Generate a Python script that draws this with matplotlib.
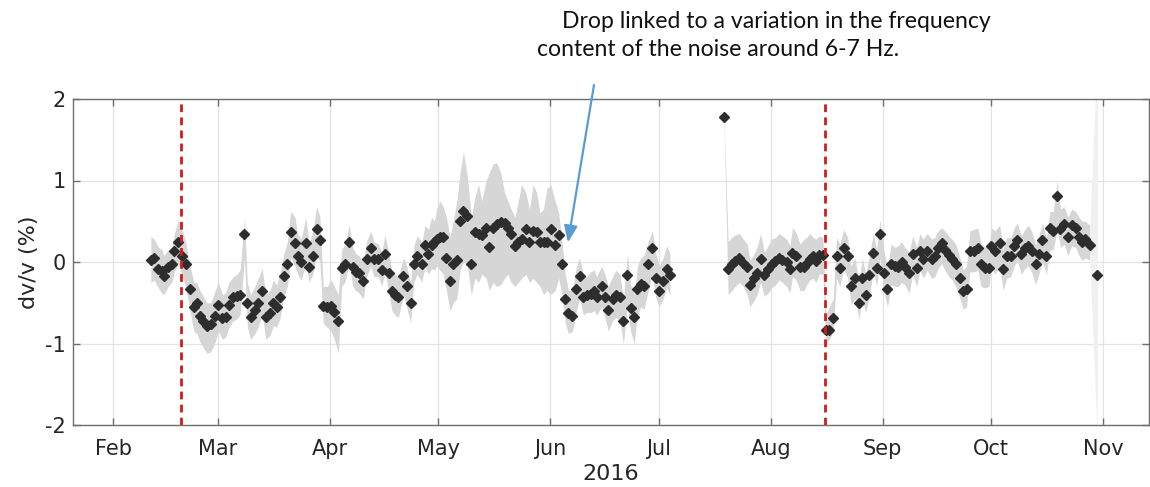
import datetime as dt
import matplotlib
matplotlib.use("Agg")
import matplotlib.pyplot as plt
import matplotlib.dates as mdates
import numpy as np

plt.rcParams["font.family"] = ["DejaVu Sans"]

# ---------------- data (days after 2016-02-01, dv/v in %) ----------------
base_date = dt.datetime(2016, 2, 1)

days_a = [10.4, 11.3, 12.5, 13.4, 14.0, 15.2, 16.2, 16.9, 18.0, 18.9, 20.0, 21.2, 22.3, 23.1, 24.0,
          24.9, 25.9, 27.0, 28.2, 29.1, 30.2, 31.1, 32.0, 33.2, 34.2, 35.1, 36.3, 37.1, 38.0, 39.2,
          40.1, 41.2, 42.2, 43.4, 44.3, 45.2, 46.1, 47.2, 48.2, 49.1, 50.3, 51.0, 52.0, 53.3, 54.2,
          55.2, 56.3, 57.2, 58.1, 59.2, 60.3, 61.2, 62.3, 63.2, 64.1, 65.3, 66.3, 67.1, 68.0, 69.2,
          70.1, 71.2, 72.2, 73.4, 74.3, 75.2, 76.3, 77.1, 78.0, 78.9, 80.3, 81.2, 82.3, 83.2, 84.1,
          85.4, 86.3, 87.2, 88.1, 88.9, 89.5, 90.4, 91.3, 92.2, 93.2, 94.1, 95.1, 96.0, 96.9, 98.0,
          99.1, 100.1, 101.1, 102.0, 103.2, 104.1, 105.1, 106.1, 107.2, 108.3, 109.2, 110.1, 111.2, 112.1, 113.0,
          114.2, 115.2, 116.2, 117.2, 118.1, 119.1, 120.0, 121.1, 122.3, 123.3, 124.2, 125.1, 126.0, 127.1, 128.2,
          129.1, 130.1, 131.0, 132.1, 133.1, 133.8, 135.2, 136.1, 137.0, 138.2, 139.1, 140.2, 141.2, 142.3, 143.2,
          144.2, 145.1, 146.0, 146.9, 148.1, 149.2, 150.2, 151.1, 152.2, 153.2, 154.1]
dvv_a = [0.03, 0.05, -0.09, -0.11, -0.17, -0.06, -0.03, 0.14, 0.24, 0.07, -0.03, -0.33, -0.55, -0.50, -0.66,
         -0.72, -0.79, -0.76, -0.66, -0.53, -0.69, -0.67, -0.53, -0.43, -0.42, -0.40, 0.34, -0.50, -0.67, -0.59,
         -0.50, -0.36, -0.67, -0.63, -0.50, -0.55, -0.43, -0.17, -0.03, 0.37, 0.23, 0.07, 0.00, 0.23, -0.06,
         0.07, 0.41, 0.27, -0.54, -0.55, -0.54, -0.61, -0.73, -0.07, -0.02, 0.24, -0.06, -0.12, -0.13, -0.23,
         0.04, 0.17, 0.04, 0.04, -0.10, 0.10, -0.13, -0.36, -0.40, -0.43, -0.17, -0.30, -0.50, -0.03, 0.07,
         -0.03, 0.21, 0.10, 0.21, 0.25, 0.28, 0.31, 0.31, 0.05, -0.23, -0.03, 0.03, 0.50, 0.62, 0.56,
         -0.03, 0.37, 0.34, 0.33, 0.42, 0.18, 0.42, 0.47, 0.49, 0.48, 0.42, 0.34, 0.20, 0.24, 0.28,
         0.41, 0.24, 0.38, 0.37, 0.24, 0.24, 0.24, 0.41, 0.21, 0.33, -0.03, -0.46, -0.63, -0.66, -0.33,
         -0.17, -0.43, -0.41, -0.39, -0.36, -0.43, -0.30, -0.43, -0.59, -0.46, -0.40, -0.43, -0.73, -0.16, -0.56,
         -0.67, -0.33, -0.27, -0.29, -0.03, 0.17, -0.20, -0.36, -0.23, -0.09, -0.16]
lo_a = [-0.25, -0.22, -0.32, -0.38, -0.40, -0.30, -0.25, -0.12, -0.02, -0.15, -0.30, -0.60, -0.85, -0.88, -0.98,
        -1.05, -1.12, -1.10, -0.98, -0.85, -0.95, -0.92, -0.80, -0.72, -0.70, -0.65, 0.05, -0.80, -0.95, -0.88,
        -0.80, -0.65, -0.95, -0.90, -0.78, -0.80, -0.70, -0.42, -0.30, 0.05, -0.05, -0.15, -0.22, -0.02, -0.25,
        -0.15, 0.10, 0.00, -0.75, -0.80, -0.85, -0.95, -1.12, -0.30, -0.25, -0.02, -0.30, -0.35, -0.38, -0.45,
        -0.18, -0.05, -0.18, -0.18, -0.30, -0.12, -0.38, -0.60, -0.65, -0.68, -0.40, -0.55, -0.75, -0.25, -0.15,
        -0.25, -0.05, -0.15, -0.08, -0.10, -0.05, -0.10, -0.15, -0.35, -0.60, -0.50, -0.45, -0.10, 0.00, -0.05,
        -0.40, -0.20, -0.25, -0.15, -0.20, -0.35, -0.25, -0.30, -0.28, -0.20, -0.15, -0.25, -0.30, -0.25, -0.20,
        -0.15, -0.25, -0.20, -0.25, -0.30, -0.40, -0.35, -0.40, -0.35, -0.20, -0.40, -0.75, -0.88, -0.85, -0.60,
        -0.45, -0.65, -0.62, -0.62, -0.60, -0.65, -0.55, -0.68, -0.85, -0.72, -0.68, -0.72, -1.00, -0.55, -0.85,
        -1.00, -0.65, -0.55, -0.58, -0.35, -0.15, -0.45, -0.55, -0.45, -0.32, -0.40]
hi_a = [0.31, 0.28, 0.18, 0.15, 0.08, 0.15, 0.18, 0.35, 0.52, 0.42, 0.25, -0.05, -0.25, -0.25, -0.35,
        -0.42, -0.50, -0.50, -0.35, -0.25, -0.40, -0.38, -0.25, -0.18, -0.15, -0.10, 0.55, -0.25, -0.40, -0.30,
        -0.20, -0.08, -0.40, -0.35, -0.22, -0.28, -0.15, 0.10, 0.25, 0.62, 0.55, 0.35, 0.28, 0.55, 0.22,
        0.38, 0.68, 0.55, -0.30, -0.30, -0.22, -0.30, -0.40, 0.15, 0.22, 0.45, 0.18, 0.10, 0.08, 0.00,
        0.25, 0.38, 0.25, 0.22, 0.12, 0.33, 0.10, -0.12, -0.15, -0.18, 0.05, -0.05, -0.25, 0.20, 0.32,
        0.25, 0.45, 0.40, 0.55, 0.50, 0.65, 0.75, 0.68, 0.55, 0.30, 0.50, 0.75, 1.10, 1.35, 1.05,
        0.55, 0.80, 0.95, 0.75, 1.00, 1.10, 1.20, 1.22, 1.10, 0.85, 0.75, 0.65, 0.55, 0.75, 0.95,
        0.85, 0.65, 0.95, 0.85, 0.60, 0.65, 0.90, 0.95, 0.75, 0.60, 0.25, -0.15, -0.35, -0.35, -0.05,
        0.05, -0.15, -0.18, -0.12, -0.10, -0.18, -0.05, -0.15, -0.30, -0.18, -0.10, -0.15, -0.45, 0.10, -0.28,
        -0.40, -0.05, 0.05, 0.08, 0.25, 0.38, 0.10, -0.05, 0.05, 0.20, 0.10]

days_b = [169.0, 170.2, 171.2, 172.1, 173.3, 174.4, 175.5, 176.2, 177.3, 178.2, 179.2, 180.2, 181.3, 182.2, 183.3,
          184.3, 185.2, 186.4, 187.3, 188.0, 189.0, 190.1, 191.2, 191.9, 192.8, 193.7, 194.5, 195.4, 196.4, 197.3,
          198.2, 199.3, 200.2, 201.1, 202.2, 203.3, 204.2, 205.3, 206.4, 207.3, 208.3, 209.3, 210.4, 211.3, 212.2,
          213.4, 214.3, 215.3, 216.4, 217.3, 218.2, 219.1, 220.3, 221.3, 222.4, 223.3, 224.2, 225.3, 226.5, 227.4,
          228.3, 229.3, 230.2, 231.3, 232.2, 233.2, 234.4, 235.3, 236.2, 237.1, 238.2, 239.3, 240.2, 241.3, 242.4,
          243.1, 244.0, 245.4, 246.3, 247.3, 248.4, 249.4, 250.2, 251.4, 252.3, 253.3, 254.2, 255.3, 256.2, 257.2,
          258.3, 259.3, 260.2, 261.3, 262.2, 263.2, 264.3, 265.3, 266.4, 267.3, 268.2, 269.1, 270.3]
dvv_b = [1.78, -0.09, -0.03, 0.01, 0.05, -0.01, -0.06, -0.28, -0.20, -0.13, 0.04, -0.16, -0.09, -0.03, 0.01,
         0.05, 0.03, 0.00, -0.09, 0.11, 0.07, -0.06, -0.06, -0.01, 0.04, 0.07, 0.01, 0.08, 0.08, -0.83,
         -0.83, -0.69, 0.07, -0.07, 0.17, 0.07, -0.30, -0.20, -0.50, -0.20, -0.40, -0.16, 0.11, -0.07, 0.34,
         -0.13, -0.33, -0.03, -0.05, -0.06, 0.00, -0.06, -0.13, 0.10, -0.07, 0.14, 0.04, 0.14, 0.04, 0.07,
         0.17, 0.23, 0.15, 0.08, 0.04, -0.03, -0.20, -0.36, -0.33, 0.14, 0.14, 0.17, -0.03, -0.07, -0.07,
         0.20, 0.14, 0.23, -0.09, 0.07, 0.07, 0.20, 0.27, 0.10, 0.17, 0.20, 0.14, -0.03, 0.10, 0.27,
         0.07, 0.42, 0.38, 0.81, 0.41, 0.47, 0.31, 0.45, 0.42, 0.31, 0.25, 0.28, 0.21]
lo_b = [1.75, -0.40, -0.35, -0.30, -0.25, -0.30, -0.40, -0.55, -0.48, -0.40, -0.25, -0.42, -0.38, -0.32, -0.28,
        -0.22, -0.25, -0.30, -0.38, -0.18, -0.22, -0.35, -0.35, -0.28, -0.22, -0.20, -0.25, -0.15, -0.15, -1.00,
        -0.95, -0.85, -0.20, -0.30, -0.10, -0.20, -0.52, -0.45, -0.70, -0.45, -0.62, -0.40, -0.12, -0.30, 0.05,
        -0.38, -0.55, -0.28, -0.30, -0.30, -0.25, -0.28, -0.38, -0.15, -0.30, -0.10, -0.20, -0.10, -0.20, -0.18,
        -0.08, -0.02, -0.10, -0.18, -0.22, -0.30, -0.45, -0.58, -0.55, -0.12, -0.12, -0.10, -0.30, -0.32, -0.30,
        -0.05, -0.15, -0.05, -0.35, -0.20, -0.18, -0.05, 0.02, -0.15, -0.08, -0.05, -0.12, -0.28, -0.15, 0.00,
        -0.15, 0.15, 0.15, 0.40, 0.18, 0.22, 0.08, 0.20, 0.18, 0.08, 0.02, 0.05, 0.02]
hi_b = [1.80, 0.25, 0.30, 0.33, 0.35, 0.28, 0.22, 0.02, 0.10, 0.18, 0.35, 0.12, 0.20, 0.28, 0.30,
        0.35, 0.32, 0.28, 0.20, 0.42, 0.36, 0.22, 0.28, 0.30, 0.35, 0.30, 0.28, 0.32, 0.30, -0.65,
        -0.55, -0.45, 0.30, 0.22, 0.40, 0.30, -0.05, 0.05, -0.25, 0.05, -0.15, 0.08, 0.35, 0.15, 0.52,
        0.12, -0.08, 0.22, 0.18, 0.20, 0.25, 0.18, 0.12, 0.32, 0.18, 0.35, 0.28, 0.35, 0.28, 0.30,
        0.38, 0.42, 0.38, 0.32, 0.28, 0.22, 0.05, -0.10, -0.05, 0.38, 0.40, 0.42, 0.22, 0.18, 0.20,
        0.42, 0.38, 0.45, 0.15, 0.30, 0.30, 0.42, 0.48, 0.32, 0.40, 0.45, 0.38, 0.22, 0.32, 0.48,
        0.30, 0.62, 0.62, 1.00, 0.65, 0.68, 0.55, 0.65, 0.62, 0.55, 0.50, 0.50, 0.45]

# last isolated estimate with very wide uncertainty
days_c = [270.3, 272.4]
dvv_c = [-0.16]
lo_c = [0.02, -2.2]
hi_c = [0.45, 2.6]

event_days = [18.7, 196.9]          # red dashed lines (days after Feb 1)
xlim_days = [-11.3, 286.7]
ylim = [-2, 2]
yticks = [-2, -1, 0, 1, 2]

note_line1 = "Drop linked to a variation in the frequency"
note_line2 = "content of the noise around 6-7 Hz."
arrow_tip = (125.85, 0.24)           # (day, dv/v)


def to_num(days):
    return mdates.date2num([base_date + dt.timedelta(days=float(d)) for d in days])


# ---------------- figure ----------------
W, H = 1150, 487
fig = plt.figure(figsize=(W / 100, H / 100), dpi=100)
ax = fig.add_axes([72.5 / W, 1 - 425 / H, (1149 - 72.5) / W, (425 - 99) / H])

band_col = "#d6d6d6"
dot_col = "#2d2d2d"

xa, xb, xc = to_num(days_a), to_num(days_b), to_num(days_c)
ax.fill_between(xa, lo_a, hi_a, color=band_col, lw=0, zorder=1)
ax.fill_between(xb, lo_b, hi_b, color=band_col, lw=0, zorder=1)
ax.fill_between(xc, lo_c, hi_c, color="#f0f0f0", lw=0, zorder=1)

ax.plot(xa, dvv_a, ls="none", marker="D", ms=5.5, color=dot_col, zorder=3)
ax.plot(xb, dvv_b, ls="none", marker="D", ms=5.5, color=dot_col, zorder=3)
ax.plot(xc[-1:], dvv_c, ls="none", marker="D", ms=5.5, color=dot_col, zorder=3)

for ev in to_num(event_days):
    ax.axvline(ev, color="#d01c1c", lw=2.0, dashes=(2.8, 1.9), zorder=4)

xl = to_num(xlim_days)
ax.set_xlim(xl[0], xl[1])
ax.set_ylim(*ylim)
ax.set_yticks(yticks)
ax.set_yticklabels([str(t) for t in yticks])

ax.xaxis.set_major_locator(mdates.MonthLocator())
ax.xaxis.set_major_formatter(mdates.DateFormatter("%b"))

ax.grid(True, color="#e3e3e3", lw=0.9, zorder=0)
ax.set_axisbelow(True)
for sp in ax.spines.values():
    sp.set_color("#6e6e6e")
    sp.set_linewidth(1.0)
ax.tick_params(direction="in", length=5, width=1.0, color="#6e6e6e",
               top=True, right=True, labelsize=15, labelcolor="#262626")
ax.tick_params(axis="x", pad=10)
ax.tick_params(axis="y", pad=5)

ax.set_ylabel("dv/v (%)", fontsize=16, color="#262626", labelpad=4)
ax.set_xlabel("2016", fontsize=16, color="#262626", labelpad=4)

# annotation
fig.text(562 / W, 1 - 21 / H, note_line1, fontsize=16.6, family="Lato",
         ha="left", va="center", color="#111111")
fig.text(537 / W, 1 - 50 / H, note_line2, fontsize=16.6, family="Lato",
         ha="left", va="center", color="#111111")
ax.annotate("", xy=(to_num([arrow_tip[0]])[0], arrow_tip[1]), xycoords="data",
            xytext=(594 / W, 1 - 85 / H), textcoords="figure fraction",
            arrowprops=dict(arrowstyle="-|>,head_length=1.0,head_width=0.4",
                            color="#5b9bd5", lw=1.6, shrinkA=0, shrinkB=0),
            annotation_clip=False, zorder=6)

fig.savefig("out.png", dpi=100)
